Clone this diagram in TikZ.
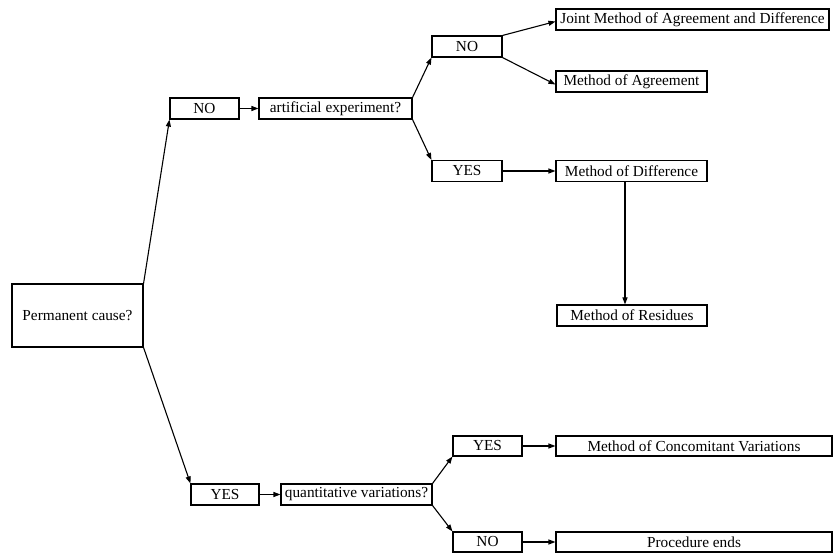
\documentclass[tikz,border=0pt]{standalone}
\usepackage{fontspec}
\setmainfont{Liberation Serif}
\usetikzlibrary{arrows.meta}
\begin{document}
\begin{tikzpicture}[x=1pt,y=-1pt,
  box/.style={draw, line width=1.1pt, rectangle, inner sep=0pt, font=\fontsize{15.3}{18}\selectfont},
  arr/.style={line width=1.1pt, -{Triangle[length=7pt,width=5pt]}}]
\useasboundingbox (0,0) rectangle (833,553);
\node[box, minimum width=131pt, minimum height=63pt] (perm) at (77.5,315.5) {Permanent cause?};
\node[box, minimum width=69pt, minimum height=21pt] (no1) at (204.5,108.5) {NO};
\node[box, minimum width=153pt, minimum height=21pt] (art) at (335.5,108.5) {artificial experiment?};
\node[box, minimum width=70pt, minimum height=21pt] (no2) at (467,46.5) {NO};
\node[box, minimum width=70pt, minimum height=21pt] (yes2) at (467,171) {YES};
\node[box, minimum width=273pt, minimum height=21pt] (joint) at (692.5,19.5) {Joint Method of Agreement and Difference};
\node[box, minimum width=151pt, minimum height=21pt] (agree) at (631.5,81.5) {Method of Agreement};
\node[box, minimum width=151pt, minimum height=21pt] (diff) at (631.5,171) {Method of Difference};
\node[box, minimum width=150pt, minimum height=21pt] (resid) at (632,315.5) {Method of Residues};
\node[box, minimum width=68pt, minimum height=21pt] (yes3) at (225,494.5) {YES};
\node[box, minimum width=151pt, minimum height=21pt] (quant) at (356.5,494.5) {quantitative variations?};
\node[box, minimum width=69pt, minimum height=20pt] (yes4) at (487.5,446) {YES};
\node[box, minimum width=69pt, minimum height=20pt] (no4) at (487.5,542) {NO};
\node[box, minimum width=276pt, minimum height=20pt] (conc) at (694,446) {Method of Concomitant Variations};
\node[box, minimum width=276pt, minimum height=20pt] (proc) at (694,542) {Procedure ends};

\draw[arr] (perm.north east) -- (no1.south west);
\draw[arr] (perm.south east) -- (yes3.north west);
\draw[arr] (no1.east) -- (art.west);
\draw[arr] (art.north east) -- (no2.south west);
\draw[arr] (art.south east) -- (yes2.north west);
\draw[arr] (no2.north east) -- ([yshift=-2pt]joint.west);
\draw[arr] (no2.south east) -- ([yshift=-3pt]agree.west);
\draw[arr] (yes2.east) -- (diff.west);
\draw[arr] (625,0 |- diff.south) -- (625,0 |- resid.north);
\draw[arr] (yes3.east) -- (quant.west);
\draw[arr] (quant.north east) -- (yes4.south west);
\draw[arr] (quant.south east) -- (no4.north west);
\draw[arr] (yes4.east) -- (conc.west);
\draw[arr] (no4.east) -- (proc.west);
\end{tikzpicture}
\end{document}
